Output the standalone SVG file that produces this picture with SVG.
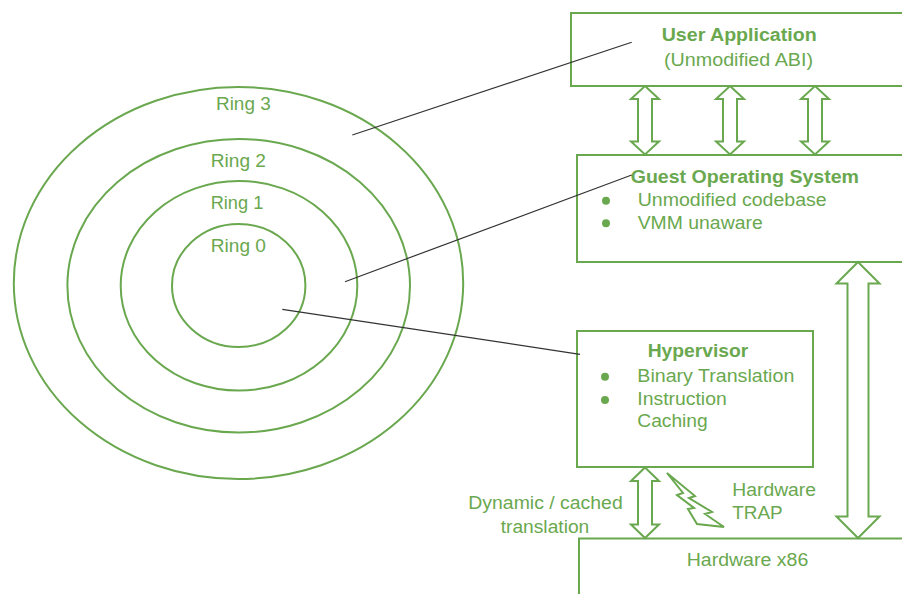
<svg xmlns="http://www.w3.org/2000/svg" width="902" height="594" viewBox="0 0 902 594">
<style>
.box{fill:#fff;stroke:#6aa84f;stroke-width:2}
.ring{fill:none;stroke:#6aa84f;stroke-width:2}
.arr{fill:#fff;stroke:#6aa84f;stroke-width:2;stroke-linejoin:miter}
.t{font-family:"Liberation Sans",Arial,sans-serif;font-size:17.5px;fill:#6aa84f}
.b{font-weight:bold}
.dot{fill:#6aa84f}
.lead{stroke:#333;stroke-width:1.2;fill:none}
</style>
<rect width="902" height="594" fill="#fff"/>
<g id="rings">
<ellipse class="ring" cx="238.5" cy="283" rx="224.7" ry="196"/>
<ellipse class="ring" cx="238.7" cy="285.8" rx="171.3" ry="146.8"/>
<ellipse class="ring" cx="239" cy="285.8" rx="118.3" ry="104.8"/>
<ellipse class="ring" cx="238.7" cy="285.5" rx="66.7" ry="61.5"/>
<text class="t" x="216" y="110" textLength="54.7" lengthAdjust="spacingAndGlyphs">Ring 3</text>
<text class="t" x="210.7" y="166.7" textLength="55.3" lengthAdjust="spacingAndGlyphs">Ring 2</text>
<text class="t" x="210.7" y="209" textLength="52.6" lengthAdjust="spacingAndGlyphs">Ring 1</text>
<text class="t" x="210.7" y="251.7" textLength="55.3" lengthAdjust="spacingAndGlyphs">Ring 0</text>
</g>
<g id="user-application">
<rect class="box" x="571" y="13" width="340" height="73"/>
<text class="t b" x="661.7" y="41" textLength="155" lengthAdjust="spacingAndGlyphs">User Application</text>
<text class="t" x="664" y="65.7" textLength="149" lengthAdjust="spacingAndGlyphs">(Unmodified ABI)</text>
</g>
<g id="guest-os">
<rect class="box" x="577" y="155" width="334" height="107"/>
<text class="t b" x="630.7" y="183.3" textLength="228.3" lengthAdjust="spacingAndGlyphs">Guest Operating System</text>
<circle class="dot" cx="606" cy="200.7" r="4"/>
<text class="t" x="637.7" y="206" textLength="189" lengthAdjust="spacingAndGlyphs">Unmodified codebase</text>
<circle class="dot" cx="606" cy="223.3" r="4"/>
<text class="t" x="637.7" y="229.3" textLength="125" lengthAdjust="spacingAndGlyphs">VMM unaware</text>
</g>
<g id="hypervisor">
<rect class="box" x="577" y="331" width="236" height="136"/>
<text class="t b" x="647.7" y="357" textLength="100.6" lengthAdjust="spacingAndGlyphs">Hypervisor</text>
<circle class="dot" cx="605" cy="376.7" r="4"/>
<text class="t" x="637.3" y="381.7" textLength="157" lengthAdjust="spacingAndGlyphs">Binary Translation</text>
<circle class="dot" cx="605" cy="400" r="4"/>
<text class="t" x="637.3" y="405" textLength="89.4" lengthAdjust="spacingAndGlyphs">Instruction</text>
<text class="t" x="637.3" y="427.3" textLength="70.4" lengthAdjust="spacingAndGlyphs">Caching</text>
</g>
<g id="hardware">
<rect class="box" x="579" y="538.5" width="334" height="70"/>
<text class="t" x="686.7" y="566" textLength="121.6" lengthAdjust="spacingAndGlyphs">Hardware x86</text>
</g>
<g id="connectors">
<line class="lead" x1="352.3" y1="135" x2="631.7" y2="42.3"/>
<line class="lead" x1="345" y1="281.7" x2="631.7" y2="175"/>
<line class="lead" x1="282.3" y1="309.3" x2="580" y2="354.3"/>
<polygon class="arr" points="645,86 659,99 652,99 652,141.5 659,141.5 645,154.5 631,141.5 638,141.5 638,99 631,99"/>
<polygon class="arr" points="730,86 744,99 737,99 737,141.5 744,141.5 730,154.5 716,141.5 723,141.5 723,99 716,99"/>
<polygon class="arr" points="815,86 829,99 822,99 822,141.5 829,141.5 815,154.5 801,141.5 808,141.5 808,99 801,99"/>
<polygon class="arr" points="645,467.5 659,481 652,481 652,524.5 659,524.5 645,538 631,524.5 638,524.5 638,481 631,481"/>
<polygon class="arr" points="858,262 879.5,283.5 868.5,283.5 868.5,516.5 879.5,516.5 858,538 836.5,516.5 847.5,516.5 847.5,283.5 836.5,283.5"/>
<polygon class="arr" points="667,473 695,496 689,498 712,512 705,514 724,527 697,524 688,509 694,508 677,495 683,493"/>
<text class="t" x="468.3" y="509.3" textLength="154.4" lengthAdjust="spacingAndGlyphs">Dynamic / cached</text>
<text class="t" x="500.7" y="532.7" textLength="88.6" lengthAdjust="spacingAndGlyphs">translation</text>
<text class="t" x="732.3" y="496" textLength="83.7" lengthAdjust="spacingAndGlyphs">Hardware</text>
<text class="t" x="732.3" y="519" textLength="50.4" lengthAdjust="spacingAndGlyphs">TRAP</text>
</g>
</svg>
